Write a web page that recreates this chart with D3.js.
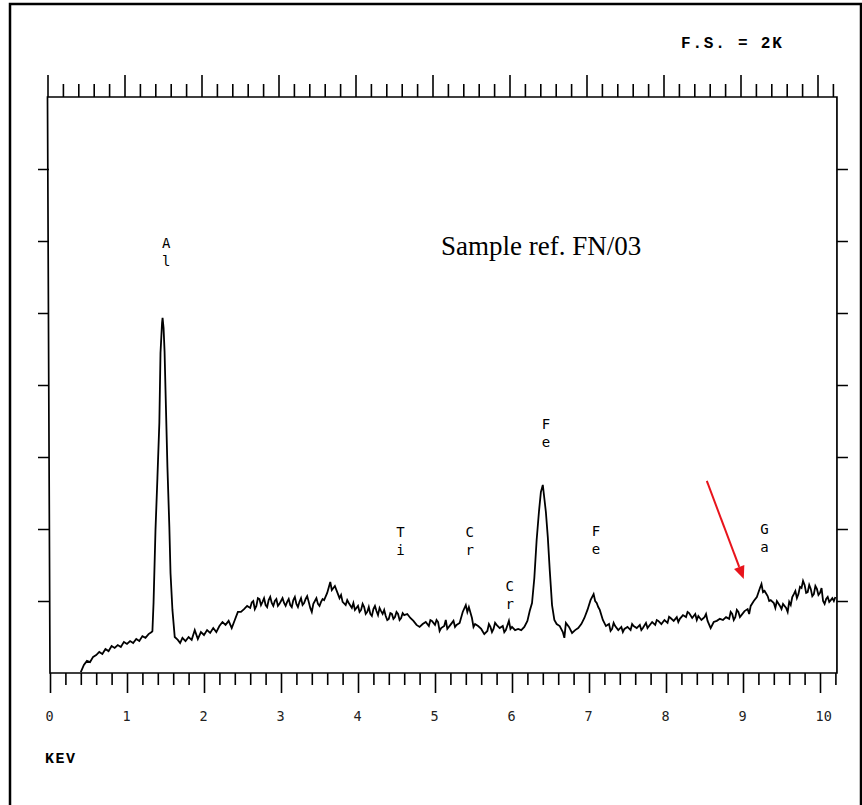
<!DOCTYPE html>
<html>
<head>
<meta charset="utf-8">
<script src="https://cdn.jsdelivr.net/npm/d3@7"></script>
<style>
  body { margin: 0; background: #fff; }
  svg { display: block; }
</style>
</head>
<body>
<svg id="chart"></svg>
<script>
const width = 862, height = 805;

// spectre EDS : [keV, coups]
const spectrum = [
  [0.40,3],[0.44,28],[0.48,42],[0.52,38],[0.56,56],[0.60,62],[0.64,73],[0.68,66],[0.72,83],[0.76,76],
  [0.80,94],[0.84,87],[0.88,97],[0.92,90],[0.96,108],[1.00,101],[1.04,111],[1.08,104],[1.12,118],[1.16,111],
  [1.20,128],[1.24,122],[1.28,135],[1.32,142],
  [1.33,145],[1.345,245],[1.37,497],[1.395,677],[1.42,868],[1.435,1111],[1.455,1215],[1.462,1233],[1.475,1198],
  [1.488,1115],[1.50,983],[1.525,715],[1.55,507],[1.565,347],[1.59,219],[1.62,125],[1.66,115],[1.69,104],
  [1.72,122],[1.76,111],[1.80,125],[1.84,115],[1.88,149],[1.92,118],[1.96,142],[2.00,132],[2.04,149],[2.08,139],
  [2.12,156],[2.16,142],[2.20,163],[2.24,177],[2.28,167],[2.32,181],[2.36,156],[2.40,184],[2.44,212],[2.48,212],
  [2.52,222],[2.56,233],[2.60,226],[2.62,245],[2.64,250],[2.66,222],[2.68,233],[2.70,260],[2.72,257],[2.74,236],
  [2.76,247],[2.78,260],[2.80,236],[2.82,229],[2.84,253],[2.86,264],[2.88,243],[2.90,233],[2.92,250],[2.94,257],
  [2.96,233],[2.98,240],[3.00,250],[3.02,260],[3.04,243],[3.06,233],[3.08,247],[3.10,257],[3.12,236],[3.14,229],
  [3.16,253],[3.18,264],[3.20,240],[3.22,229],[3.24,247],[3.26,260],[3.28,236],[3.30,243],[3.32,257],[3.34,267],
  [3.36,247],[3.38,226],[3.40,212],[3.42,240],[3.44,250],[3.46,260],[3.48,240],[3.50,233],[3.52,247],[3.54,257],
  [3.56,253],[3.60,278],[3.64,316],[3.66,288],[3.68,295],[3.70,302],[3.72,288],[3.76,260],[3.78,271],[3.80,247],
  [3.84,236],[3.86,253],[3.88,243],[3.92,226],[3.94,243],[3.96,219],[4.00,233],[4.02,212],[4.04,219],[4.06,240],
  [4.08,229],[4.10,205],[4.12,212],[4.14,229],[4.16,205],[4.18,198],[4.20,222],[4.22,233],[4.24,215],[4.26,201],
  [4.28,226],[4.30,215],[4.32,205],[4.34,219],[4.36,198],[4.38,184],[4.40,188],[4.42,208],[4.44,205],[4.46,188],
  [4.48,194],[4.50,212],[4.52,205],[4.54,184],[4.56,191],[4.58,208],[4.60,201],[4.64,205],[4.68,191],[4.72,181],
  [4.76,167],[4.80,160],[4.84,170],[4.88,177],[4.92,163],[4.94,184],[4.96,181],[5.00,167],[5.02,184],[5.04,177],
  [5.06,146],[5.08,156],[5.12,163],[5.14,184],[5.16,153],[5.20,167],[5.24,181],[5.26,160],[5.28,167],[5.32,174],
  [5.36,212],[5.40,236],[5.42,212],[5.44,229],[5.48,191],[5.50,160],[5.52,170],[5.56,163],[5.60,153],[5.64,135],
  [5.68,146],[5.70,170],[5.72,160],[5.74,142],[5.76,153],[5.78,174],[5.80,167],[5.84,156],[5.88,163],[5.90,142],
  [5.92,149],[5.96,181],[5.98,153],[6.00,160],[6.04,149],[6.08,153],[6.12,149],[6.16,160],
  [6.20,181],[6.23,215],[6.26,243],[6.29,330],[6.32,462],[6.35,560],[6.375,628],[6.40,653],[6.415,618],[6.44,559],
  [6.465,472],[6.49,358],[6.52,236],[6.55,184],[6.58,170],[6.62,163],[6.66,142],[6.68,122],[6.70,174],[6.74,160],
  [6.78,139],[6.82,149],[6.86,156],[6.90,170],[6.94,191],[6.98,219],[7.02,253],[7.06,274],[7.08,250],[7.10,243],
  [7.12,229],[7.14,219],[7.18,184],[7.22,163],[7.26,170],[7.28,146],[7.30,153],[7.32,174],[7.34,163],[7.38,149],
  [7.42,160],[7.44,142],[7.46,153],[7.50,160],[7.54,149],[7.56,170],[7.58,163],[7.62,156],[7.66,167],[7.68,149],
  [7.70,156],[7.74,174],[7.76,156],[7.78,163],[7.82,177],[7.86,167],[7.88,184],[7.90,181],[7.94,170],[7.98,184],
  [8.02,174],[8.04,195],[8.06,191],[8.10,181],[8.14,194],[8.16,177],[8.18,188],[8.22,201],[8.26,194],[8.28,212],
  [8.30,208],[8.34,191],[8.38,205],[8.40,184],[8.42,198],[8.46,184],[8.50,194],[8.52,205],[8.54,181],[8.58,156],
  [8.62,177],[8.66,181],[8.70,188],[8.74,184],[8.78,194],[8.82,188],[8.84,212],[8.86,205],[8.88,184],[8.90,194],
  [8.92,219],[8.94,212],[8.96,194],[8.98,201],[9.02,215],[9.06,222],[9.08,205],[9.10,233],[9.14,250],[9.18,264],
  [9.22,295],[9.24,309],[9.26,281],[9.28,285],[9.32,267],[9.34,250],[9.36,253],[9.40,243],[9.42,226],[9.44,250],
  [9.48,233],[9.50,222],[9.52,240],[9.56,226],[9.58,212],
  [9.60,247],[9.62,236],[9.64,264],[9.66,274],[9.68,285],[9.70,260],[9.72,274],[9.74,299],[9.76,295],[9.78,320],
  [9.80,306],[9.82,278],[9.84,281],[9.86,306],[9.88,292],[9.90,267],[9.92,274],[9.94,302],[9.96,292],[9.98,271],
  [10.00,278],[10.02,295],[10.04,250],[10.06,240],[10.08,257],[10.10,264],[10.12,247],[10.14,253],[10.16,260],
  [10.18,250],[10.20,264]
];

// étiquettes des raies
const peakLabels = ["Al", "Ti", "Cr", "Cr", "Fe", "Fe", "Ga"];
const labelKeV = [1.51, 4.55, 5.45, 5.97, 6.44, 7.09, 9.28];
const labelCounts = [1476, 472, 472, 285, 847, 476, 481];

const xTickLabels = ["0", "1", "2", "3", "4", "5", "6", "7", "8", "9", "10"];
const yTickCounts = [250, 500, 750, 1000, 1250, 1500, 1750];

// flèche rouge (keV, coups)
const arrowFrom = [8.53, 667];
const arrowTo = [9.01, 326];

const x = d3.scaleLinear().domain([0, 10]).range([50, 820]);
const xTop = d3.scaleLinear().domain([0, 10]).range([47.5, 817.5]);
const y = d3.scaleLinear().domain([0, 2000]).range([673, 97]);
const xMax = 10.22;

const svg = d3.select("#chart")
    .attr("width", width)
    .attr("height", height);

// cadre extérieur
svg.append("rect")
    .attr("x", 10).attr("y", 4)
    .attr("width", 851).attr("height", 810)
    .attr("fill", "none")
    .attr("stroke", "#000")
    .attr("stroke-width", 2.5);

const minorTicks = d3.range(0, 52).map(i => i / 5);
const isMajor = d => Math.abs(d - Math.round(d)) < 1e-6;

// cadre du graphe
const frame = d3.path();
frame.moveTo(xTop(0), y(2000));
frame.lineTo(xTop(xMax) + 2.5, y(2000));
frame.lineTo(x(xMax), y(0));
frame.lineTo(x(0), y(0));
frame.closePath();
svg.append("path")
    .attr("d", frame.toString())
    .attr("fill", "none")
    .attr("stroke", "#000")
    .attr("stroke-width", 1.7);

// axe du bas
const gBottom = svg.append("g")
    .attr("transform", `translate(0,${y(0)})`)
    .call(d3.axisBottom(x).tickValues(minorTicks).tickFormat("").tickSizeOuter(0));
gBottom.select(".domain").remove();
gBottom.selectAll(".tick line")
    .attr("y2", d => isMajor(d) ? 20 : 12)
    .attr("stroke", "#000")
    .attr("stroke-width", 1.6);

// axe du haut
const gTop = svg.append("g")
    .attr("transform", `translate(0,${y(2000)})`)
    .call(d3.axisTop(xTop).tickValues(minorTicks).tickFormat("").tickSizeOuter(0));
gTop.select(".domain").remove();
gTop.selectAll(".tick line")
    .attr("y2", d => isMajor(d) ? -22 : -13)
    .attr("stroke", "#000")
    .attr("stroke-width", 1.6);

// axes verticaux
const gLeft = svg.append("g")
    .attr("transform", `translate(${x(0) - 1},0)`)
    .call(d3.axisLeft(y).tickValues(yTickCounts).tickFormat("").tickSize(11).tickSizeOuter(0));
gLeft.select(".domain").remove();
gLeft.selectAll(".tick line").attr("stroke", "#000").attr("stroke-width", 1.5);

const gRight = svg.append("g")
    .attr("transform", `translate(${x(xMax)},0)`)
    .call(d3.axisRight(y).tickValues(yTickCounts).tickFormat("").tickSize(11).tickSizeOuter(0));
gRight.select(".domain").remove();
gRight.selectAll(".tick line").attr("stroke", "#000").attr("stroke-width", 1.5);

// graduations keV
svg.selectAll(".xlabel")
    .data(xTickLabels)
    .enter().append("text")
    .attr("class", "xlabel")
    .attr("x", (d, i) => x(i) - 4.5)
    .attr("y", y(0) + 47.5)
    .attr("font-family", "DejaVu Sans Mono")
    .attr("font-size", 13.5)
    .attr("fill", "#222")
    .text(d => d);

svg.append("text")
    .attr("x", 45).attr("y", 763)
    .attr("font-family", "Liberation Mono")
    .attr("font-weight", "bold")
    .attr("font-size", 15)
    .attr("letter-spacing", 1.5)
    .text("KEV");

svg.append("text")
    .attr("x", 681).attr("y", 48)
    .attr("font-family", "Liberation Mono")
    .attr("font-weight", "bold")
    .attr("font-size", 16)
    .attr("letter-spacing", 1.8)
    .text("F.S. = 2K");

svg.append("text")
    .attr("x", 441).attr("y", 255)
    .attr("font-family", "Liberation Serif")
    .attr("font-size", 27)
    .text("Sample ref. FN/03");

// spectre
const line = d3.line()
    .x(d => x(d[0]))
    .y(d => y(d[1]));

svg.append("path")
    .datum(spectrum)
    .attr("d", line)
    .attr("fill", "none")
    .attr("stroke", "#000")
    .attr("stroke-width", 1.8)
    .attr("stroke-linejoin", "miter");

// étiquettes empilées
const lab = svg.selectAll(".peak-label")
    .data(peakLabels)
    .enter().append("text")
    .attr("class", "peak-label")
    .attr("font-family", "DejaVu Sans Mono")
    .attr("font-size", 14)
    .attr("text-anchor", "middle")
    .attr("fill", "#000");
lab.each(function(d, i) {
    const t = d3.select(this);
    d.split("").forEach((c, j) => {
        t.append("tspan")
            .attr("x", x(labelKeV[i]))
            .attr("y", y(labelCounts[i]) + j * 18)
            .text(c);
    });
});

// flèche
const ax1 = x(arrowFrom[0]), ay1 = y(arrowFrom[1]);
const ax2 = x(arrowTo[0]), ay2 = y(arrowTo[1]);
const ang = Math.atan2(ay2 - ay1, ax2 - ax1);
const headLen = 13, headW = 5.5;
const bx = ax2 - headLen * Math.cos(ang), by = ay2 - headLen * Math.sin(ang);
svg.append("line")
    .attr("x1", ax1).attr("y1", ay1)
    .attr("x2", bx).attr("y2", by)
    .attr("stroke", "#e8141c")
    .attr("stroke-width", 2);
svg.append("path")
    .attr("d", `M${ax2},${ay2}L${bx + headW * Math.sin(ang)},${by - headW * Math.cos(ang)}L${bx - headW * Math.sin(ang)},${by + headW * Math.cos(ang)}Z`)
    .attr("fill", "#e8141c");
</script>
</body>
</html>
